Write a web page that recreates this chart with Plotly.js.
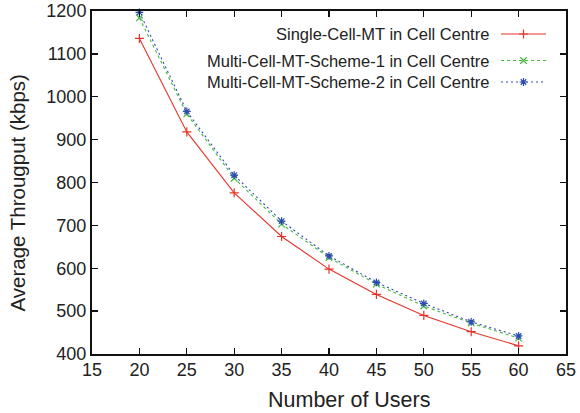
<!DOCTYPE html>
<html>
<head>
<meta charset="utf-8">
<script src="https://cdn.plot.ly/plotly-3.0.1.min.js"></script>
<style>
  html, body { margin: 0; padding: 0; background: #fff; }
  #chart { width: 580px; height: 413px; }
</style>
</head>
<body>
<div id="chart"></div>
<script>
// Number of users per cell
const users = [20, 25, 30, 35, 40, 45, 50, 55, 60];

// Average throughput (kbps) of users in the cell centre
const singleCellMT = [1136, 918, 776, 674, 598, 539, 490, 452, 419];
const multiCellScheme1 = [1184, 960, 810, 703, 625, 563, 512, 472, 437];
const multiCellScheme2 = [1197, 966, 817, 710, 629, 567, 518, 475, 442];

const seriesNames = [
  'Single-Cell-MT in Cell Centre',
  'Multi-Cell-MT-Scheme-1 in Cell Centre',
  'Multi-Cell-MT-Scheme-2 in Cell Centre'
];

const xTicks = [15, 20, 25, 30, 35, 40, 45, 50, 55, 60, 65];
const yTicks = [400, 500, 600, 700, 800, 900, 1000, 1100, 1200];

const colors = ['#e5332a', '#44b83c', '#2f4ab5'];
const dashes = ['solid', '3px,3px', '2px,3px'];
const symbols = ['cross-thin-open', 'x-thin-open', 'asterisk-open'];
const seriesValues = [singleCellMT, multiCellScheme1, multiCellScheme2];

const FONT = '"Liberation Sans", Arial, Helvetica, sans-serif';
const TEXT = '#222';

// Plot frame in page pixels
const PLOT = { left: 92, right: 566, top: 11, bottom: 354 };
const px2paperX = (px) => (px - PLOT.left) / (PLOT.right - PLOT.left);
const px2paperY = (py) => (PLOT.bottom - py) / (PLOT.bottom - PLOT.top);

const traces = seriesValues.map((vals, i) => ({
  x: users,
  y: vals,
  type: 'scatter',
  mode: 'lines+markers',
  name: seriesNames[i],
  showlegend: false,
  line: { color: colors[i], width: 1.1, dash: dashes[i] },
  marker: { symbol: symbols[i], size: 6.5, color: colors[i], line: { color: colors[i], width: 1.2 } },
  cliponaxis: false,
  hoverinfo: 'skip'
}));

// Key drawn on an overlay axis measured in page pixels (left->right, top->bottom)
const keyRows = [34, 60.5, 82];
const keyLineX = [501, 546];
const keyMarkX = 523.5;
seriesNames.forEach((name, i) => {
  traces.push({
    x: keyLineX, y: [keyRows[i], keyRows[i]],
    xaxis: 'x2', yaxis: 'y2', type: 'scatter', mode: 'lines',
    line: { color: colors[i], width: 1.1, dash: dashes[i] },
    showlegend: false, hoverinfo: 'skip'
  });
  traces.push({
    x: [keyMarkX], y: [keyRows[i]],
    xaxis: 'x2', yaxis: 'y2', type: 'scatter', mode: 'markers',
    marker: { symbol: symbols[i], size: 6.5, color: colors[i], line: { color: colors[i], width: 1.2 } },
    showlegend: false, hoverinfo: 'skip'
  });
});

const annotations = seriesNames.map((name, i) => ({
  xref: 'x2', yref: 'y2', x: 491, y: keyRows[i],
  text: name, showarrow: false, xanchor: 'right', yanchor: 'middle',
  font: { family: FONT, size: 16.5, color: TEXT }
}));

// Axis titles
annotations.push({
  xref: 'paper', yref: 'paper', x: px2paperX(349), y: px2paperY(400),
  text: 'Number of Users',
  showarrow: false, xanchor: 'center', yanchor: 'middle',
  font: { family: FONT, size: 21.5, color: TEXT }
});
annotations.push({
  xref: 'paper', yref: 'paper', x: px2paperX(17), y: px2paperY(193.5),
  text: 'Average Througput (kbps)',
  showarrow: false, xanchor: 'center', yanchor: 'middle', textangle: -90,
  font: { family: FONT, size: 20.5, color: TEXT }
});

const axisCommon = {
  showgrid: false, zeroline: false,
  showline: true, linecolor: '#111', linewidth: 2, mirror: 'ticks',
  ticks: 'inside', ticklen: 6, tickwidth: 1.3, tickcolor: '#111',
  tickfont: { family: FONT, size: 18, color: TEXT },
  fixedrange: true
};

const layout = {
  width: 580, height: 413,
  margin: { l: PLOT.left, r: 580 - PLOT.right, t: PLOT.top, b: 413 - PLOT.bottom },
  paper_bgcolor: '#fff', plot_bgcolor: '#fff',
  showlegend: false,
  xaxis: Object.assign({}, axisCommon, {
    range: [15, 65], tickvals: xTicks, ticktext: xTicks.map(String),
    ticklabelshift: 3.5, ticklabelstandoff: -2
  }),
  yaxis: Object.assign({}, axisCommon, {
    range: [400, 1200], tickvals: yTicks, ticktext: yTicks.map(String)
  }),
  xaxis2: { overlaying: 'x', range: [PLOT.left, PLOT.right], visible: false, fixedrange: true },
  yaxis2: { overlaying: 'y', range: [PLOT.bottom, PLOT.top], visible: false, fixedrange: true },
  annotations: annotations
};

Plotly.newPlot('chart', traces, layout, { staticPlot: true, displayModeBar: false });
</script>
</body>
</html>
